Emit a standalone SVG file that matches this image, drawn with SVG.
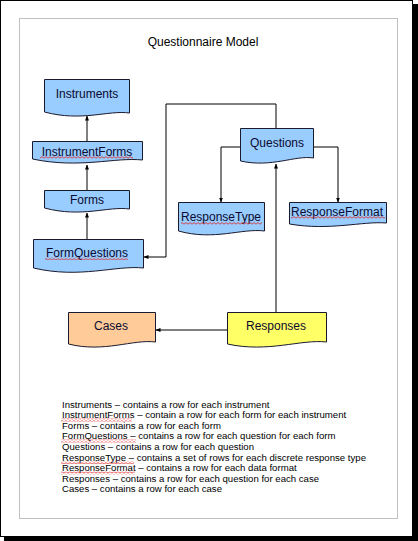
<svg xmlns="http://www.w3.org/2000/svg" width="418" height="541" viewBox="0 0 418 541">
<style>
.page{fill:#fff;stroke:#000;stroke-width:1}
.inner{fill:none;stroke:#c0c0c0;stroke-width:1}
.doc{stroke:#1a1a2e;stroke-width:1}
.blue{fill:#99ccff}
.orange{fill:#ffcc99}
.yellow{fill:#ffff66}
.lbl{font-family:"Liberation Sans",Arial,sans-serif;font-size:12px;fill:#0a0a30;text-anchor:middle}
.title{font-family:"Liberation Sans",Arial,sans-serif;font-size:12px;fill:#000;text-anchor:middle}
.leg{font-family:"Liberation Sans",Arial,sans-serif;font-size:9.6px;fill:#000}
.conn{fill:none;stroke:#000;stroke-width:1;marker-end:url(#arr)}
.sq{fill:url(#squig)}
</style>
<defs>
<marker id="arr" viewBox="0 0 10 10" refX="9" refY="5" markerWidth="5" markerHeight="5" orient="auto" markerUnits="userSpaceOnUse">
<path d="M0,1 L10,5 L0,9 Z" fill="#000"/>
</marker>
<pattern id="squig" width="4" height="3" patternUnits="userSpaceOnUse">
<path d="M0,2.2 L2,0.6 L4,2.2" fill="none" stroke="#e02020" stroke-width="0.8"/>
</pattern>
</defs>
<rect x="4" y="4" width="414" height="537" fill="#000"/>
<rect class="page" x="0.5" y="0.5" width="412" height="536"/>
<rect class="inner" x="19.5" y="18.5" width="378" height="500"/>
<text class="title" x="203" y="46">Questionnaire Model</text>

<g id="connectors">
<path class="conn" d="M87,141 V116"/>
<path class="conn" d="M87,190 V165"/>
<path class="conn" d="M87,239 V213"/>
<path class="conn" d="M276,128 V104 H166 V257 H144"/>
<path class="conn" d="M240,147 H221 V202"/>
<path class="conn" d="M313,147 H338 V202"/>
<path class="conn" d="M276,312 V164"/>
<path class="conn" d="M227,330 H156"/>
</g>

<g id="Instruments">
<path class="doc blue" d="M44.5,79.5 H129.5 V113 C108,110 82,122 44.5,112 Z"/>
<text class="lbl" x="87" y="98">Instruments</text>
</g>
<g id="InstrumentForms">
<path class="doc blue" d="M32.5,141.5 H142.5 V160 C115,157 80,169 32.5,159 Z"/>
<text class="lbl" x="87" y="156">InstrumentForms</text>
<rect class="sq" x="40" y="156" width="93" height="3"/>
</g>
<g id="Forms">
<path class="doc blue" d="M44.5,190.5 H129.5 V209 C108,206 82,218 44.5,208 Z"/>
<text class="lbl" x="87" y="204">Forms</text>
</g>
<g id="FormQuestions">
<path class="doc blue" d="M33.5,239.5 H143.5 V268 C116,265 80,279 33.5,268 Z"/>
<text class="lbl" x="87" y="257">FormQuestions</text>
<rect class="sq" x="45" y="257" width="83" height="3"/>
</g>
<g id="Questions">
<path class="doc blue" d="M240.5,128.5 H313.5 V158 C295,155 272,168 240.5,161 Z"/>
<text class="lbl" x="277" y="147">Questions</text>
</g>
<g id="ResponseType">
<path class="doc blue" d="M178.5,202.5 H264.5 V231 C242,228 214,241 178.5,231 Z"/>
<text class="lbl" x="221" y="221">ResponseType</text>
<rect class="sq" x="181" y="222" width="81" height="3"/>
</g>
<g id="ResponseFormat">
<path class="doc blue" d="M289.5,202.5 H386.5 V223 C362,221 330,231 289.5,224 Z"/>
<text class="lbl" x="337" y="216">ResponseFormat</text>
<rect class="sq" x="291" y="216" width="94" height="3"/>
</g>
<g id="Cases">
<path class="doc orange" d="M68.5,312.5 H155.5 V342 C133,339 104,353 68.5,344 Z"/>
<text class="lbl" x="111" y="330">Cases</text>
</g>
<g id="Responses">
<path class="doc yellow" d="M227.5,312.5 H326.5 V342 C301,339 268,353 227.5,344 Z"/>
<text class="lbl" x="276" y="330">Responses</text>
</g>

<g id="legend">
<text class="leg" x="62" y="407.5">Instruments – contains a row for each instrument</text>
<text class="leg" x="62" y="418">InstrumentForms – contain a row for each form for each instrument</text>
<text class="leg" x="62" y="428.5">Forms – contains a row for each form</text>
<text class="leg" x="62" y="439">FormQuestions – contains a row for each question for each form</text>
<text class="leg" x="62" y="449.5">Questions – contains a row for each question</text>
<text class="leg" x="62" y="460.5">ResponseType – contains a set of rows for each discrete response type</text>
<text class="leg" x="62" y="471">ResponseFormat – contains a row for each data format</text>
<text class="leg" x="62" y="481.5">Responses – contains a row for each question for each case</text>
<text class="leg" x="62" y="492">Cases – contains a row for each case</text>
<rect class="sq" x="61" y="418.5" width="71" height="3"/>
<rect class="sq" x="61" y="439.5" width="75" height="3"/>
<rect class="sq" x="61" y="461" width="73" height="3"/>
<rect class="sq" x="61" y="471.5" width="74" height="3"/>
</g>
</svg>
